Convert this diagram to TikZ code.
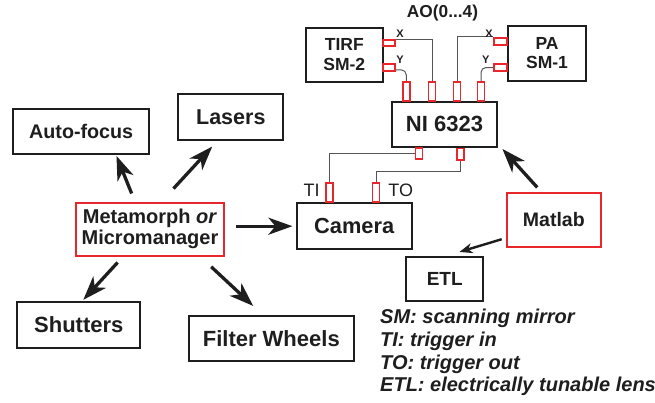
\documentclass[tikz,border=0pt]{standalone}
\usepackage{fontspec}
\setmainfont{Liberation Sans}
\usetikzlibrary{positioning, arrows.meta}
\definecolor{PadRed}{HTML}{E8262B}
\definecolor{InkGray}{HTML}{1E1E1E}
\definecolor{WireGray}{HTML}{555555}
\newcommand{\pxfont}[1]{\fontsize{#1}{#1}\selectfont}

\begin{document}
\begin{tikzpicture}[x=1pt, y=-1pt,
  unit/.style={draw=InkGray, line width=1.8pt, fill=white, text=InkGray,
    inner sep=0pt, font=\bfseries},
  ctrl/.style={unit, draw=PadRed},
  vpad/.style={draw=PadRed, line width=1.8pt, fill=white,
    minimum width=7pt, minimum height=19pt, inner sep=0pt},
  hpad/.style={vpad, minimum width=13pt, minimum height=7pt},
  wire/.style={draw=WireGray, line width=1pt},
  arr/.style={-{Stealth[length=24pt, width=17pt, inset=7pt]}, line width=3.3pt, InkGray},
  sarr/.style={-{Stealth[length=13pt, width=10pt, inset=4pt]}, line width=2.4pt, InkGray},
  tag/.style={font=\bfseries\pxfont{11}, text=InkGray, inner sep=0pt},
]
  \useasboundingbox (0,0) rectangle (655,402);

  % Software and devices
  \node[ctrl, minimum width=148.6pt, minimum height=53pt, font=\bfseries\pxfont{20}, align=center]
    (meta) at (150,229.2) {Metamorph \textit{or}\\[1pt]Micromanager};
  \node[unit, minimum width=135.7pt, minimum height=45.3pt, font=\bfseries\pxfont{19.7}]
    (focus) at (81.2,131.7) {Auto-focus};
  \node[unit, minimum width=105pt, minimum height=45.7pt, font=\bfseries\pxfont{21.5}]
    (lasers) at (230.8,117.2) {Lasers};
  \node[unit, minimum width=123pt, minimum height=46pt, font=\bfseries\pxfont{22}]
    (shutters) at (78.8,324.7) {Shutters};
  \node[unit, minimum width=164.7pt, minimum height=45pt, font=\bfseries\pxfont{22}]
    (filter) at (271.3,338.2) {Filter Wheels};
  \node[unit, minimum width=115pt, minimum height=45.7pt, font=\bfseries\pxfont{21.8}]
    (camera) at (354.2,226.2) {Camera};
  \node[unit, minimum width=105pt, minimum height=45pt, font=\bfseries\pxfont{22}]
    (ni) at (444.5,124.2) {NI 6323};
  \node[unit, minimum width=77.3pt, minimum height=54pt, font=\bfseries\pxfont{17.5}, align=center]
    (tirf) at (344.3,54.7) {TIRF\\[2pt]SM-2};
  \node[unit, minimum width=78pt, minimum height=55.3pt, font=\bfseries\pxfont{17.5}, align=center]
    (pa) at (547,53.3) {PA\\[2pt]SM-1};
  \node[ctrl, minimum width=94.3pt, minimum height=54pt, font=\bfseries\pxfont{19.5}]
    (matlab) at (553.8,219.7) {Matlab};
  \node[unit, minimum width=77.3pt, minimum height=43.4pt, font=\bfseries\pxfont{19}]
    (etl) at (444.7,279) {ETL};

  % Connectors on the boards
  \node[hpad, minimum width=12.5pt, minimum height=6pt] (tirfx) at (389,43) {};
  \node[hpad, minimum width=12.5pt] (tirfy) at (389,67.5) {};
  \node[hpad] (pax) at (500.7,41.2) {};
  \node[hpad] (pay) at (500.7,67.5) {};
  \foreach \x [count=\i] in {406.3,432,457,481}
    \node[vpad] (top\i) at (\x,91.2) {};
  \node[vpad, minimum height=11.6pt] (bot1) at (419,153.5) {};
  \node[vpad, minimum height=11.6pt] (bot2) at (460.5,154.2) {};
  \node[vpad] (tipad) at (329.3,192.5) {};
  \node[vpad] (topad) at (376,192.5) {};

  % Wiring
  \draw[wire] (tirfx.north east) -| (top2.north);
  \draw[wire, rounded corners=5pt] ([yshift=2pt]tirfy.south east) -| (top1.north);
  \draw[wire] (pax.north west) -| (top3.north);
  \draw[wire, rounded corners=5pt] (pay.west) -| (top4.north);
  \draw[wire] (bot1.west) -| (tipad.north);
  \draw[wire] (bot2.south) -- ++(0,10.7) -| (topad.north);

  \node[tag] (tx) at (400,33.3) {X};
  \node[tag] (ty) at (400,60) {Y};
  \node[tag] (px) at (489,33.3) {X};
  \node[tag] (py) at (485.7,60) {Y};
  \node[font=\bfseries\pxfont{17.3}, text=InkGray, inner sep=0pt] (ao) at (442.5,13) {AO(0...4)};
  \node[font=\pxfont{18}, text=InkGray, inner sep=0pt] (tilab) at (311.7,190.7) {TI};
  \node[font=\pxfont{18}, text=InkGray, inner sep=0pt] (tolab) at (400.7,190.7) {TO};

  % Control arrows
  \draw[arr, shorten <=9pt, shorten >=0.7pt] ([xshift=-15pt]meta.north) -- ([xshift=35pt]focus.south);
  \draw[arr, shorten <=18pt, shorten >=7.6pt] ([xshift=11.3pt]meta.north) -- ([xshift=-13.4pt]lasers.south);
  \draw[arr, shorten <=8pt, shorten >=1.3pt] ([xshift=-27pt]meta.south) -- ([xshift=3.6pt]shutters.north);
  \draw[arr, shorten <=14.9pt, shorten >=13pt] ([xshift=50.3pt]meta.south) -- ([xshift=-8.6pt]filter.north);
  \draw[arr, shorten <=11pt, shorten >=3.4pt] (meta.east |- camera.west) -- (camera.west);
  \draw[arr, shorten <=5.9pt, shorten >=1.8pt] ([xshift=-12.6pt]matlab.north) -- ([xshift=3.3pt]ni.south east);
  \draw[sarr, shorten <=4.2pt, shorten >=15.4pt] ([yshift=-18.3pt]matlab.west) -- (etl.north);

  % Legend
  \node[anchor=north west, inner sep=0pt, align=left, text=InkGray,
    font=\bfseries\itshape\fontsize{20}{22.7}\selectfont] (legend) at (380,309)
    {SM: scanning mirror\\TI: trigger in\\TO: trigger out\\ETL: electrically tunable lens};
\end{tikzpicture}
\end{document}
